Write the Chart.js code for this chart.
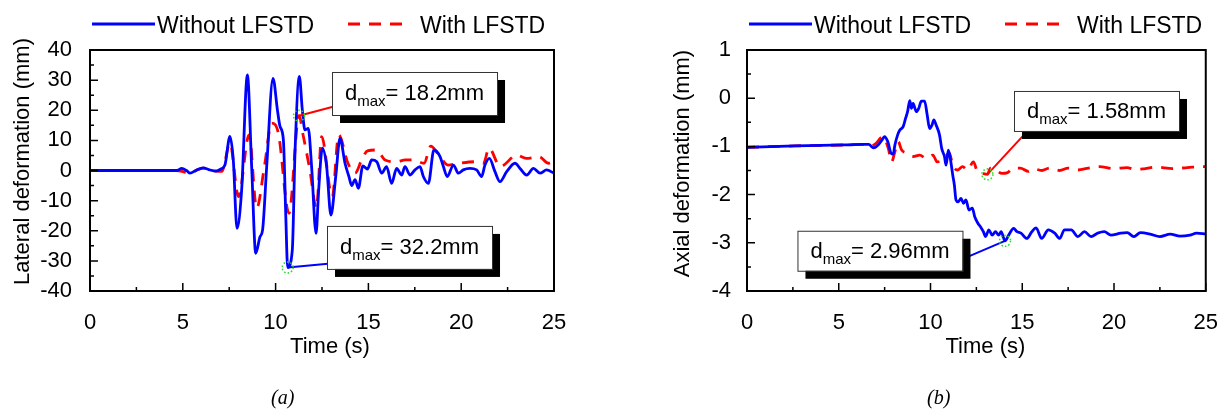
<!DOCTYPE html>
<html>
<head>
<meta charset="utf-8">
<title>Deformation time histories</title>
<script src="https://cdn.jsdelivr.net/npm/chart.js@4.4.1/dist/chart.umd.min.js"></script>
<style>
  body { margin: 0; background: #fff; }
  #wrap { position: relative; width: 1229px; height: 410px; overflow: hidden; }
  #lateralChart { position: absolute; left: 0; top: 0; }
  #axialChart { position: absolute; left: 614px; top: 0; }
  .caption { position: absolute; top: 387px; font: italic 20px "Liberation Serif", "Times New Roman", serif; line-height: 20px; color: #000; }
</style>
</head>
<body>
<div id="wrap">
  <canvas id="lateralChart" width="614" height="410"></canvas>
  <canvas id="axialChart" width="615" height="410"></canvas>
  <div class="caption" style="left:271px">(a)</div>
  <div class="caption" style="left:927px">(b)</div>
</div>
<script>
const seriesNames = ["Without LFSTD", "With LFSTD"];
const seriesColors = ["#0000ff", "#ff0000"];
const timeTicks = [0, 5, 10, 15, 20, 25];
const lateralTicks = [-40, -30, -20, -10, 0, 10, 20, 30, 40];
const axialTicks = [-4, -3, -2, -1, 0, 1];

// lateral deformation (mm)
const lateralTimeWithout = [0, 4.7, 4.94, 5.2, 5.39, 5.7, 6.1, 6.4, 6.8, 7.05, 7.27, 7.54, 7.72, 7.92, 8.17, 8.48, 8.71, 8.93, 9.16, 9.3, 9.52, 9.86, 10.1, 10.24, 10.42, 10.55, 10.65, 10.9, 11.05, 11.28, 11.44, 11.58, 11.76, 11.94, 12.18, 12.32, 12.52, 12.75, 12.98, 13.24, 13.47, 13.74, 13.95, 14.1, 14.28, 14.46, 14.7, 14.95, 15.18, 15.45, 15.72, 15.98, 16.25, 16.52, 16.79, 16.97, 17.24, 17.51, 17.78, 17.96, 18.23, 18.53, 18.86, 19.04, 19.25, 19.58, 19.85, 20.11, 20.47, 20.83, 21.1, 21.28, 21.52, 21.82, 22.09, 22.45, 22.9, 23.17, 23.53, 23.89, 24.25, 24.6, 25];
const lateralWithout = [0, 0, 0.7, 0, -0.9, 0, 0.9, 0.3, -0.2, 0.5, 1.8, 11.3, 3.5, -19.2, -6.5, 31.7, 1.3, -27.5, -22, -19.7, 1.3, 30.6, 20, 14.6, 10.1, -15.3, -32.2, -26.4, 6.8, 31.2, 20.1, 13.5, 14, 1.3, -20.9, -6.5, 7.4, 1.3, -14.8, -2, 10.7, 2.4, -2, -5, -3, -5.9, 1.5, 0.5, 3.5, 2.9, -0.9, 1.3, -4.3, 0.7, -1.5, 1.3, -1.5, 0.2, 1.3, -2, -4.3, 6.8, 4.6, 1.3, -2, 1.8, -0.9, 0.2, 0.7, 0.2, -2, 1.8, 4.0, -0.4, -3.7, -0.4, 2.4, 0.7, -1.5, 0.7, -0.9, 0.2, -0.9];
const lateralTimeWith = [0, 4.67, 5.0, 5.39, 5.8, 6.1, 6.5, 6.8, 7.1, 7.54, 8.0, 8.57, 8.98, 9.4, 9.79, 10.15, 10.72, 11.26, 11.5, 11.85, 12.2, 12.48, 13.05, 13.4, 13.9, 14.28, 14.64, 14.95, 15.45, 15.9, 16.5, 17.0, 17.4, 18.0, 18.36, 18.8, 19.3, 19.9, 20.7, 21.2, 21.5, 22.1, 23.0, 23.5, 24.2, 24.7, 25];
const lateralWith = [0, 0, -0.4, -0.9, 0.3, 0.8, 0.2, -0.2, -0.3, 9.0, -8.7, 11.8, -12.5, 1.5, 15.7, 12.3, -14.2, 18.2, 11.2, 0, -12.5, 11.2, -8.7, 11.8, 2.4, -0.9, 3.5, 6.5, 6.8, 3.5, 2.9, 3.5, 3.5, 2.4, 8.1, 5.1, 1.8, 2.4, 2.9, 2.4, 7.4, 1.3, 5.1, 4.0, 4.6, 2.4, 3.0];

// axial deformation (mm)
const axialTimeWithout = [0, 2.6, 5.3, 6.27, 6.63, 6.9, 7.17, 7.35, 7.49, 7.67, 7.85, 7.97, 8.06, 8.21, 8.33, 8.51, 8.64, 8.75, 8.87, 8.96, 9.05, 9.23, 9.36, 9.5, 9.68, 9.82, 9.95, 10.08, 10.18, 10.31, 10.49, 10.61, 10.76, 10.85, 10.97, 11.08, 11.21, 11.3, 11.39, 11.51, 11.66, 11.8, 11.93, 12.1, 12.28, 12.41, 12.59, 12.73, 12.88, 13.0, 13.18, 13.36, 13.54, 13.72, 13.85, 14.06, 14.26, 14.53, 14.71, 14.93, 15.25, 15.52, 15.75, 16.06, 16.42, 16.77, 17.04, 17.3, 17.67, 18.03, 18.39, 18.75, 19.11, 19.47, 19.83, 20.37, 20.72, 21.08, 21.44, 21.98, 22.5, 23.06, 23.6, 24.14, 24.5, 25];
const axialWithout = [-1.02, -0.99, -0.97, -0.96, -0.96, -1.03, -0.96, -0.87, -0.80, -0.90, -1.14, -1.16, -0.97, -0.76, -0.66, -0.59, -0.42, -0.28, -0.05, -0.21, -0.11, -0.28, -0.21, -0.06, -0.06, -0.35, -0.63, -0.56, -0.45, -0.56, -0.76, -1.04, -1.21, -1.39, -1.08, -1.25, -1.59, -1.80, -2.11, -2.15, -2.08, -2.18, -2.11, -2.32, -2.28, -2.46, -2.60, -2.67, -2.77, -2.87, -2.73, -2.84, -2.77, -2.84, -2.77, -2.96, -2.84, -2.70, -2.77, -2.80, -2.91, -2.77, -2.69, -2.91, -2.73, -2.80, -2.91, -2.73, -2.73, -2.87, -2.77, -2.87, -2.80, -2.77, -2.84, -2.80, -2.79, -2.87, -2.79, -2.82, -2.87, -2.82, -2.86, -2.84, -2.80, -2.82];
const axialTimeWith = [0, 2.6, 5.3, 6.27, 6.72, 7.0, 7.4, 7.7, 7.88, 8.06, 8.24, 8.42, 8.69, 9.05, 9.41, 9.77, 10.13, 10.36, 10.67, 11.03, 11.21, 11.48, 11.75, 12.01, 12.34, 12.55, 12.82, 13.1, 13.27, 13.54, 13.9, 14.17, 14.53, 14.89, 15.34, 15.6, 16.06, 16.5, 17.04, 17.5, 18.03, 18.6, 19.2, 20.0, 20.7, 21.2, 21.7, 22.3, 23.2, 24.0, 24.8, 25];
const axialWith = [-1.02, -0.99, -0.97, -0.96, -1.0, -0.95, -0.80, -1.04, -1.32, -1.11, -0.90, -1.07, -1.14, -1.21, -1.18, -1.25, -1.18, -1.32, -1.28, -1.14, -1.39, -1.49, -1.42, -1.49, -1.32, -1.52, -1.56, -1.58, -1.45, -1.49, -1.56, -1.55, -1.45, -1.45, -1.52, -1.46, -1.50, -1.45, -1.50, -1.45, -1.49, -1.45, -1.42, -1.46, -1.44, -1.48, -1.46, -1.43, -1.46, -1.44, -1.42, -1.42];

const FONT = 'Arial, "Liberation Sans", sans-serif';

const toPoints = (times, values) => times.map((t, i) => ({ x: t, y: values[i] }));

// box frame with inward major/minor ticks, like the origin-style plots
const frameTicks = {
  id: "frameTicks",
  afterDatasetsDraw(chart) {
    const { ctx, chartArea: a, scales } = chart;
    ctx.save();
    ctx.strokeStyle = "#000";
    ctx.lineWidth = 1.5;
    ctx.beginPath();
    [["x", scales.x], ["y", scales.y]].forEach(([axis, s]) => {
      const ticks = s.ticks.map(t => t.value);
      const half = (ticks[1] - ticks[0]) / 2;
      for (let i = 0; i < ticks.length; i++) {
        const marks = [[ticks[i], 8]];
        if (i < ticks.length - 1) marks.push([ticks[i] + half, 4]);
        marks.forEach(([v, len]) => {
          const p = s.getPixelForValue(v);
          if (axis === "x") { ctx.moveTo(p, a.bottom); ctx.lineTo(p, a.bottom - len); }
          else { ctx.moveTo(a.left, p); ctx.lineTo(a.left + len, p); }
        });
      }
    });
    ctx.stroke();
    ctx.lineWidth = 2;
    ctx.strokeRect(a.left, a.top, a.right - a.left, a.bottom - a.top);
    ctx.restore();
  }
};

// axis titles, drawn by hand so they can sit off-centre
const axisTitles = {
  id: "axisTitles",
  afterDraw(chart, args, opts) {
    const { ctx, chartArea: a } = chart;
    ctx.save();
    ctx.fillStyle = "#000";
    ctx.font = "22px " + FONT;
    ctx.textAlign = "center";
    ctx.textBaseline = "alphabetic";
    ctx.fillText(opts.x, (a.left + a.right) / 2 + opts.xShift, opts.xBaseline);
    ctx.translate(a.left + opts.yOffset, (a.top + a.bottom) / 2 + opts.yShift);
    ctx.rotate(-Math.PI / 2);
    ctx.textBaseline = "middle";
    ctx.fillText(opts.y, 0, 0);
    ctx.restore();
  }
};

// legend row above the plot: solid / dashed sample line then the name
const lineLegend = {
  id: "lineLegend",
  afterDraw(chart, args, opts) {
    const { ctx, chartArea: a } = chart;
    ctx.save();
    ctx.font = "23px " + FONT;
    ctx.textBaseline = "alphabetic";
    chart.data.datasets.forEach((ds, i) => {
      const x0 = a.left + opts.starts[i];
      ctx.strokeStyle = ds.borderColor;
      ctx.lineWidth = 3;
      ctx.setLineDash(ds.borderDash || []);
      ctx.beginPath();
      ctx.moveTo(x0, opts.lineY);
      ctx.lineTo(x0 + opts.lineLength, opts.lineY);
      ctx.stroke();
      ctx.fillStyle = "#000";
      ctx.fillText(ds.label, x0 + opts.lineLength + opts.gaps[i], opts.textY);
    });
    ctx.restore();
  }
};

// d_max callouts: dotted ring on the peak, leader line, shadowed box
const peakNotes = {
  id: "peakNotes",
  afterDraw(chart, args, opts) {
    const { ctx, scales: { x, y } } = chart;
    ctx.save();
    opts.notes.forEach(note => {
      const ds = chart.data.datasets[note.dataset];
      let peak = ds.data[0];
      ds.data.forEach(p => { if (Math.abs(p.y) > Math.abs(peak.y)) peak = p; });
      const px = x.getPixelForValue(peak.x);
      const py = y.getPixelForValue(peak.y);
      const bx = x.getPixelForValue(note.box[0]);
      const by = y.getPixelForValue(note.box[1]);

      const valueText = "= " + Math.abs(peak.y) + "mm";
      ctx.font = "22px " + FONT;
      const wD = ctx.measureText("d").width;
      const wV = ctx.measureText(valueText).width;
      ctx.font = "15px " + FONT;
      const wSub = ctx.measureText("max").width;
      const bw = wD + wSub + wV + 26;
      const bh = opts.boxHeight;

      // leader
      ctx.setLineDash([]);
      ctx.strokeStyle = ds.borderColor;
      ctx.lineWidth = 2;
      ctx.beginPath();
      ctx.moveTo(px, py);
      ctx.lineTo(x.getPixelForValue(note.lineTo[0]), y.getPixelForValue(note.lineTo[1]));
      ctx.stroke();

      // shadow + box
      ctx.fillStyle = "#000";
      ctx.fillRect(bx + 8, by + 8, bw, bh);
      ctx.fillStyle = "#fff";
      ctx.fillRect(bx, by, bw, bh);
      ctx.strokeStyle = "#333";
      ctx.lineWidth = 1;
      ctx.strokeRect(bx + 0.5, by + 0.5, bw, bh);

      // text
      const base = by + bh / 2 + 7;
      ctx.fillStyle = "#000";
      ctx.font = "22px " + FONT;
      ctx.fillText("d", bx + 13, base);
      ctx.font = "15px " + FONT;
      ctx.fillText("max", bx + 13 + wD, base + 6);
      ctx.font = "22px " + FONT;
      ctx.fillText(valueText, bx + 13 + wD + wSub, base);

      // dotted ring
      ctx.strokeStyle = "#22dd22";
      ctx.lineWidth = 1.5;
      ctx.setLineDash([1.5, 2]);
      ctx.beginPath();
      ctx.arc(px, py, 5.5, 0, Math.PI * 2);
      ctx.stroke();
    });
    ctx.restore();
  }
};

const makeChart = (canvasId, cfg) => {
  const tickFont = { family: FONT, size: 22 };
  return new Chart(document.getElementById(canvasId), {
    type: "line",
    data: {
      datasets: [
        {
          label: seriesNames[0],
          data: toPoints(cfg.timeWithout, cfg.without),
          borderColor: seriesColors[0],
          borderWidth: 2.8,
          pointRadius: 0,
          cubicInterpolationMode: "monotone"
        },
        {
          label: seriesNames[1],
          data: toPoints(cfg.timeWith, cfg.with),
          borderColor: seriesColors[1],
          borderWidth: 2.8,
          borderDash: [12, 9],
          pointRadius: 0,
          cubicInterpolationMode: "monotone"
        }
      ]
    },
    options: {
      responsive: false,
      animation: false,
      layout: { padding: { top: 50, right: cfg.padRight, left: 0, bottom: 0 } },
      plugins: {
        legend: { display: false },
        tooltip: { enabled: false },
        lineLegend: { starts: [2, 258], gaps: [2, 9], lineLength: 63, lineY: 24, textY: 33 },
        axisTitles: cfg.titles,
        peakNotes: { notes: cfg.notes, boxHeight: cfg.boxHeight }
      },
      scales: {
        x: {
          type: "linear",
          min: timeTicks[0],
          max: timeTicks[timeTicks.length - 1],
          afterBuildTicks: s => { s.ticks = timeTicks.map(v => ({ value: v })); },
          afterFit: s => { s.height = 119; },
          grid: { display: false },
          border: { display: false },
          ticks: { font: tickFont, color: "#000", padding: 11, maxRotation: 0 }
        },
        y: {
          type: "linear",
          min: cfg.yTicks[0],
          max: cfg.yTicks[cfg.yTicks.length - 1],
          afterBuildTicks: s => { s.ticks = cfg.yTicks.map(v => ({ value: v })); },
          afterFit: s => { s.width = cfg.yWidth; },
          grid: { display: false },
          border: { display: false },
          ticks: { font: tickFont, color: "#000", padding: cfg.yPad }
        }
      }
    },
    plugins: [frameTicks, axisTitles, lineLegend, peakNotes]
  });
};

makeChart("lateralChart", {
  timeWithout: lateralTimeWithout, without: lateralWithout,
  timeWith: lateralTimeWith, with: lateralWith,
  yTicks: lateralTicks,
  yWidth: 90, padRight: 60, yPad: 10,
  boxHeight: 43,
  titles: { x: "Time (s)", y: "Lateral deformation (mm)", xShift: 8, xBaseline: 353, yOffset: -67, yShift: -9 },
  notes: [
    { dataset: 1, box: [13.04, 32.7], lineTo: [13.5, 21.8] },
    { dataset: 0, box: [12.77, -18.4], lineTo: [13.25, -30.7] }
  ]
});

makeChart("axialChart", {
  timeWithout: axialTimeWithout, without: axialWithout,
  timeWith: axialTimeWith, with: axialWith,
  yTicks: axialTicks,
  yWidth: 133, padRight: 18, yPad: 8,
  boxHeight: 40,
  titles: { x: "Time (s)", y: "Axial deformation (mm)", xShift: 9, xBaseline: 353, yOffset: -64, yShift: -7 },
  notes: [
    { dataset: 1, box: [14.55, 0.15], lineTo: [15.14, -0.74] },
    { dataset: 0, box: [2.75, -2.75], lineTo: [11.48, -3.38] }
  ]
});
</script>
</body>
</html>
